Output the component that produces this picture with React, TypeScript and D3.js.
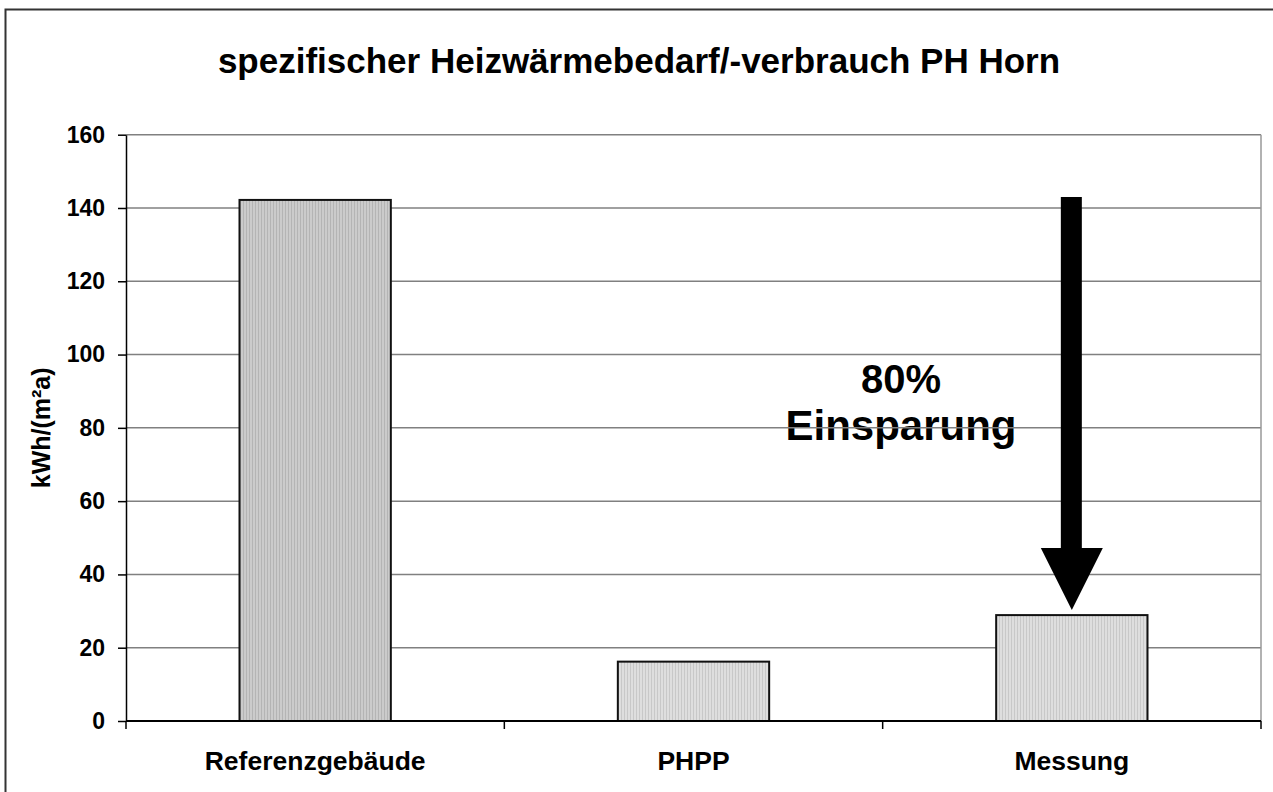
import React, { useEffect, useRef } from 'react';
import * as d3 from 'd3';

const categories = ['Referenzgebäude', 'PHPP', 'Messung'];
const values = [142.2, 16.2, 28.9];
const yTicks = [0, 20, 40, 60, 80, 100, 120, 140, 160];
const title = 'spezifischer Heizwärmebedarf/-verbrauch PH Horn';
const yLabel = 'kWh/(m²a)';
const savingLines = ['80%', 'Einsparung'];
const arrowFrom = 143;
const arrowTo = 30.3;

const App: React.FC = () => {
  const svgRef = useRef<SVGSVGElement>(null);

  useEffect(() => {
    const W = 1273;
    const H = 792;
    const margin = { top: 134.7, right: 12, bottom: 71, left: 126 };
    const width = W - margin.left - margin.right;
    const height = H - margin.top - margin.bottom;
    const font = 'Liberation Sans, Arial, sans-serif';

    const root = d3.select(svgRef.current);
    root.selectAll('*').remove();
    root.attr('width', W).attr('height', H).style('background', '#fff');

    // patterns for the bar fills
    const defs = root.append('defs');
    const mkPattern = (id: string, base: string, stripe: string) => {
      const p = defs.append('pattern')
        .attr('id', id)
        .attr('patternUnits', 'userSpaceOnUse')
        .attr('width', 3)
        .attr('height', 3);
      p.append('rect').attr('width', 3).attr('height', 3).attr('fill', base);
      p.append('rect').attr('x', 0).attr('width', 1).attr('height', 3).attr('fill', stripe);
    };
    mkPattern('pDark', '#cbcbcb', '#b4b4b4');
    mkPattern('pLight', '#dedede', '#c8c8c8');

    // outer chart border
    root.append('rect')
      .attr('x', 5.5)
      .attr('y', 9.5)
      .attr('width', W + 10)
      .attr('height', H + 10)
      .attr('fill', 'none')
      .attr('stroke', '#333')
      .attr('stroke-width', 2);

    root.append('text')
      .attr('x', 639)
      .attr('y', 73)
      .attr('text-anchor', 'middle')
      .style('font-family', font)
      .style('font-weight', 'bold')
      .style('font-size', '35px')
      .text(title);

    const svg = root.append('g')
      .attr('transform', `translate(${margin.left},${margin.top})`);

    const x = d3.scaleBand<string>()
      .domain(categories)
      .range([0, width])
      .paddingInner(0.6)
      .paddingOuter(0.3);

    const y = d3.scaleLinear().domain([0, 160]).range([height, 0]);

    // saving annotation (drawn below the grid, as in the original)
    const ann = svg.append('g').style('font-family', font).style('font-weight', 'bold');
    ann.append('text')
      .attr('x', 901 - margin.left)
      .attr('y', y(89.5))
      .attr('text-anchor', 'middle')
      .style('font-size', '40px')
      .text(savingLines[0]);
    ann.append('text')
      .attr('x', 901 - margin.left)
      .attr('y', y(76.7))
      .attr('text-anchor', 'middle')
      .style('font-size', '42px')
      .text(savingLines[1]);

    // grid lines
    svg.append('g')
      .selectAll('line')
      .data(yTicks.filter(d => d > 0))
      .enter()
      .append('line')
      .attr('x1', 0)
      .attr('x2', width)
      .attr('y1', d => y(d))
      .attr('y2', d => y(d))
      .attr('stroke', '#808080')
      .attr('stroke-width', 1.5);

    // right edge of plot area
    svg.append('line')
      .attr('x1', width)
      .attr('x2', width)
      .attr('y1', 0)
      .attr('y2', height)
      .attr('stroke', '#999')
      .attr('stroke-width', 1.5);

    // bars
    svg.selectAll('.bar')
      .data(values)
      .enter()
      .append('rect')
      .attr('class', 'bar')
      .attr('x', (_, i) => x(categories[i]) || 0)
      .attr('y', d => y(d))
      .attr('width', x.bandwidth())
      .attr('height', d => height - y(d))
      .attr('fill', (_, i) => (i === 0 ? 'url(#pDark)' : 'url(#pLight)'))
      .attr('stroke', '#111')
      .attr('stroke-width', 2);

    // arrow
    const ax = (x('Messung') || 0) + x.bandwidth() / 2;
    const headTop = y(arrowTo) - 62;
    svg.append('rect')
      .attr('x', ax - 11)
      .attr('y', y(arrowFrom))
      .attr('width', 21)
      .attr('height', headTop - y(arrowFrom) + 1)
      .attr('fill', '#000');
    svg.append('path')
      .attr('d', `M${ax - 31},${headTop} L${ax + 31},${headTop} L${ax},${y(arrowTo)} Z`)
      .attr('fill', '#000');

    // y axis
    const yAxis = svg.append('g')
      .call(d3.axisLeft(y).tickValues(yTicks).tickSize(8).tickPadding(13).tickSizeOuter(0));
    yAxis.select('.domain').attr('stroke', '#000').attr('stroke-width', 1.5);
    yAxis.selectAll('line').attr('stroke', '#000').attr('stroke-width', 1.5);
    yAxis.selectAll('text')
      .style('font-family', font)
      .style('font-weight', 'bold')
      .style('font-size', '23px')
      .attr('fill', '#000');

    // x axis with ticks at band boundaries
    const xAxis = svg.append('g').attr('transform', `translate(0,${height})`);
    xAxis.append('line')
      .attr('x1', 0)
      .attr('x2', width)
      .attr('stroke', '#000')
      .attr('stroke-width', 2);
    const bounds = d3.range(categories.length + 1).map(i => (i * width) / categories.length);
    xAxis.selectAll('.xt')
      .data(bounds)
      .enter()
      .append('line')
      .attr('class', 'xt')
      .attr('x1', d => d)
      .attr('x2', d => d)
      .attr('y1', 0)
      .attr('y2', 8)
      .attr('stroke', '#000')
      .attr('stroke-width', 1.5);
    xAxis.selectAll('.xl')
      .data(categories)
      .enter()
      .append('text')
      .attr('class', 'xl')
      .attr('x', d => (x(d) || 0) + x.bandwidth() / 2)
      .attr('y', 49)
      .attr('text-anchor', 'middle')
      .style('font-family', font)
      .style('font-weight', 'bold')
      .style('font-size', '26.5px')
      .text(d => d);

    // y axis label
    root.append('text')
      .attr('transform', `translate(50,${margin.top + height / 2}) rotate(-90)`)
      .attr('text-anchor', 'middle')
      .style('font-family', font)
      .style('font-weight', 'bold')
      .style('font-size', '25px')
      .text(yLabel);
  }, []);

  return (
    <div style={{ position: 'absolute', left: 0, top: 0 }}>
      <svg ref={svgRef}></svg>
    </div>
  );
};

export default App;
